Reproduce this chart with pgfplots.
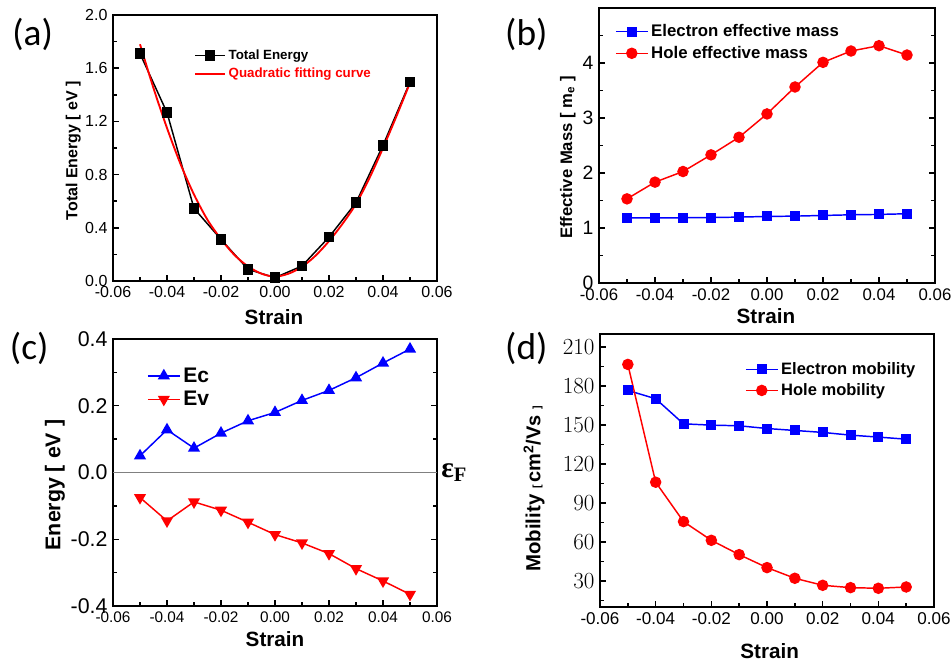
\documentclass[border=0pt]{standalone}
\usepackage{pgfplots}
\pgfplotsset{compat=1.18}
\usepackage{fontspec}
\setmainfont{Liberation Sans}
\newfontfamily\calib{Carlito}
\newfontfamily\sergr{Liberation Serif}
\definecolor{myblue}{RGB}{0,0,255}
\definecolor{myred}{RGB}{255,0,0}
\pgfplotsset{
  panel/.style={
    scale only axis,
    line width=1.6pt,
    xmin=-0.06, xmax=0.06,
    scaled x ticks=false,
    xtick={-0.06,-0.04,-0.02,0,0.02,0.04,0.06},
    xticklabels={-0.06,-0.04,-0.02,0.00,0.02,0.04,0.06},
    minor x tick num=1,
    minor y tick num=1,
    tick align=inside,
    xtick pos=left,
    every tick/.style={black, line width=1.1pt},
    major tick length=4.5pt,
    minor tick length=3pt,
    xlabel=Strain,
    xlabel style={font=\bfseries\fontsize{15.5}{18}\selectfont, anchor=base},
    ylabel style={font=\bfseries, anchor=center},
    legend cell align=left,
  },
}
\begin{document}
\begin{tikzpicture}
\useasboundingbox (0,0) rectangle (714pt,498.75pt);
% ---------------- (a)
\begin{axis}[panel,
  at={(84.75pt,288pt)}, anchor=south west,
  width=243pt, height=199.5pt,
  ymin=0, ymax=2.0,
  ytick={0,0.4,0.8,1.2,1.6,2.0},
  yticklabels={0.0,0.4,0.8,1.2,1.6,2.0},
  ytick pos=left,
  xticklabel style={font=\fontsize{12}{14}\selectfont},
  yticklabel style={font=\fontsize{12}{14}\selectfont},
  xlabel style={at={(axis description cs:0.497,-0.162)}},
  ylabel={Total Energy [ eV ]},
  ylabel style={font=\bfseries\fontsize{12}{14}\selectfont, at={(axis description cs:-0.123,0.49)}},
  legend style={draw=none, fill=none, at={(axis description cs:0.247,0.885)}, anchor=north west,
    font=\bfseries\fontsize{10}{12}\selectfont, inner sep=0pt, nodes={inner ysep=0pt}},
  legend image code/.code={\path[draw=none,fill=none] (0pt,-6.75pt) rectangle (1pt,6.75pt);
    \draw[mark repeat=2,mark phase=2,#1] plot coordinates {(0pt,0pt) (11.25pt,0pt) (22.5pt,0pt)};},
]
\addplot[black, line width=1.1pt, mark=square*, mark size=3.4pt, mark options={solid, fill=black}]
coordinates {(-0.05,1.71) (-0.04,1.266) (-0.03,0.546) (-0.02,0.313) (-0.01,0.088) (0,0.025) (0.01,0.113) (0.02,0.33) (0.03,0.589) (0.04,1.02) (0.05,1.496)};
\addplot[myred, line width=1.4pt, smooth]
coordinates {(-0.05,1.78) (-0.045,1.45) (-0.04,1.15) (-0.035,0.88) (-0.03,0.65) (-0.025,0.46) (-0.02,0.315) (-0.015,0.195) (-0.01,0.11) (-0.005,0.055) (0,0.033) (0.005,0.055) (0.01,0.107) (0.015,0.19) (0.02,0.30) (0.025,0.43) (0.03,0.58) (0.035,0.775) (0.04,1.00) (0.045,1.24) (0.05,1.49)};
\legend{Total Energy,\textcolor{myred}{Quadratic fitting curve}}
\end{axis}
\node[font=\calib\fontsize{28}{30}\selectfont] at (24.5pt,473pt) {(a)};
% ---------------- (b)
\begin{axis}[panel,
  at={(449.25pt,286.5pt)}, anchor=south west,
  width=252pt, height=206.25pt,
  ymin=0, ymax=5,
  ytick={0,1,2,3,4,5},
  yticklabels={0,1,2,3,4,},
  ytick pos=both,
  xticklabel style={font=\fontsize{12.6}{14}\selectfont},
  yticklabel style={font=\fontsize{14.5}{16}\selectfont},
  xlabel style={at={(axis description cs:0.497,-0.149)}},
  ylabel={Effective Mass [ m\textsubscript{e} ]},
  ylabel style={font=\bfseries\fontsize{12.5}{14}\selectfont, at={(axis description cs:-0.093,0.456)}},
  legend style={draw=none, fill=none, at={(axis description cs:0.0446,0.957)}, anchor=north west,
    font=\bfseries\fontsize{12.6}{14}\selectfont, inner sep=0pt, nodes={inner ysep=0pt}},
  legend image code/.code={\path[draw=none,fill=none] (0pt,-8.1pt) rectangle (1pt,8.1pt);
    \draw[mark repeat=2,mark phase=2,#1] plot coordinates {(0pt,0pt) (12pt,0pt) (24pt,0pt)};},
]
\addplot[myblue, line width=1.1pt, mark=square*, mark size=3.2pt, mark options={solid, fill=myblue}]
coordinates {(-0.05,1.186) (-0.04,1.186) (-0.03,1.186) (-0.02,1.19) (-0.01,1.198) (0,1.21) (0.01,1.216) (0.02,1.228) (0.03,1.24) (0.04,1.247) (0.05,1.259)};
\addplot[myred, line width=1.1pt, mark=*, mark size=3.75pt, mark options={solid, fill=myred}]
coordinates {(-0.05,1.53) (-0.04,1.834) (-0.03,2.027) (-0.02,2.33) (-0.01,2.65) (0,3.074) (0.01,3.564) (0.02,4.012) (0.03,4.218) (0.04,4.315) (0.05,4.145)};
\legend{Electron effective mass,Hole effective mass}
\end{axis}
\node[font=\calib\fontsize{28}{30}\selectfont] at (394.75pt,472.75pt) {(b)};
% ---------------- (c)
\begin{axis}[panel, name=axc,
  at={(84.75pt,44.25pt)}, anchor=south west,
  width=243pt, height=200.25pt,
  ymin=-0.4, ymax=0.4,
  ytick={-0.4,-0.2,0,0.2,0.4},
  yticklabels={-0.4,-0.2,0.0,0.2,0.4},
  ytick pos=both,
  xticklabel style={font=\fontsize{11.5}{13}\selectfont},
  yticklabel style={font=\fontsize{16}{18}\selectfont},
  xlabel style={at={(axis description cs:0.5,-0.15)}},
  ylabel={Energy [ eV ]},
  ylabel style={font=\bfseries\fontsize{16}{18}\selectfont, at={(axis description cs:-0.179,0.453)}},
  legend style={draw=none, fill=none, at={(axis description cs:0.102,0.91)}, anchor=north west,
    font=\bfseries\fontsize{15.8}{18}\selectfont, inner sep=0pt, nodes={inner ysep=0pt}},
  legend image code/.code={\path[draw=none,fill=none] (0pt,-8.8pt) rectangle (1pt,8.8pt);
    \draw[mark repeat=2,mark phase=2,#1] plot coordinates {(0pt,0pt) (12pt,0pt) (24pt,0pt)};},
]
\addplot[gray, line width=1pt, forget plot] coordinates {(-0.06,0) (0.06,0)};
\addplot[myblue, line width=1.1pt, mark=triangle*, mark size=4.2pt, mark options={solid, fill=myblue}]
coordinates {(-0.05,0.05) (-0.04,0.128) (-0.03,0.073) (-0.02,0.118) (-0.01,0.155) (0,0.18) (0.01,0.216) (0.02,0.246) (0.03,0.284) (0.04,0.328) (0.05,0.37)};
\addplot[myred, line width=1.1pt, mark=triangle*, mark size=4.2pt, mark options={solid, fill=myred, rotate=180}]
coordinates {(-0.05,-0.075) (-0.04,-0.145) (-0.03,-0.088) (-0.02,-0.113) (-0.01,-0.149) (0,-0.186) (0.01,-0.211) (0.02,-0.243) (0.03,-0.288) (0.04,-0.325) (0.05,-0.365)};
\legend{Ec,Ev}
\end{axis}
\node[anchor=west, inner sep=0pt, xshift=3pt, font=\sergr\bfseries\fontsize{22}{24}\selectfont] at (axc.east) {ε\textsubscript{F}};
\node[font=\calib\fontsize{28}{30}\selectfont] at (21.9pt,237.5pt) {(c)};
% ---------------- (d)
\begin{axis}[panel,
  at={(450pt,43.5pt)}, anchor=south west,
  width=250.5pt, height=204.75pt,
  ymin=10, ymax=220,
  ytick={30,60,90,120,150,180,210},
  minor ytick={15,45,75,105,135,165,195},
  ytick pos=left,
  xticklabel style={font=\fontsize{12.8}{14}\selectfont},
  yticklabel style={font=\fontsize{16}{18}\selectfont},
  xlabel style={at={(axis description cs:0.508,-0.187)}},
  ylabel={\fontsize{15.3}{18}\selectfont Mobility \fontsize{8}{10}\selectfont[ \fontsize{15}{17}\selectfont cm\textsuperscript{2}/Vs \fontsize{8}{10}\selectfont]},
  ylabel style={font=\bfseries, at={(axis description cs:-0.197,0.433)}},
  legend style={draw=none, fill=none, at={(axis description cs:0.431,0.913)}, anchor=north west,
    font=\bfseries\fontsize{12.4}{14}\selectfont, inner sep=0pt, nodes={inner ysep=0pt}},
  legend image code/.code={\path[draw=none,fill=none] (0pt,-7.9pt) rectangle (1pt,7.9pt);
    \draw[mark repeat=2,mark phase=2,#1] plot coordinates {(0pt,0pt) (12pt,0pt) (24pt,0pt)};},
]
\addplot[myblue, line width=1.1pt, mark=square*, mark size=3.2pt, mark options={solid, fill=myblue}]
coordinates {(-0.05,176.6) (-0.04,170.2) (-0.03,150.9) (-0.02,149.9) (-0.01,149.4) (0,147.3) (0.01,145.8) (0.02,144.3) (0.03,142.2) (0.04,140.7) (0.05,139.1)};
\addplot[myred, line width=1.1pt, mark=*, mark size=3.75pt, mark options={solid, fill=myred}]
coordinates {(-0.05,196.6) (-0.04,106.0) (-0.03,75.7) (-0.02,61.3) (-0.01,50.3) (0,40.3) (0.01,32.1) (0.02,26.7) (0.03,24.9) (0.04,24.4) (0.05,25.4)};
\legend{Electron mobility,Hole mobility}
\end{axis}
\node[font=\calib\fontsize{28}{30}\selectfont] at (394.75pt,237.5pt) {(d)};
\end{tikzpicture}
\end{document}
